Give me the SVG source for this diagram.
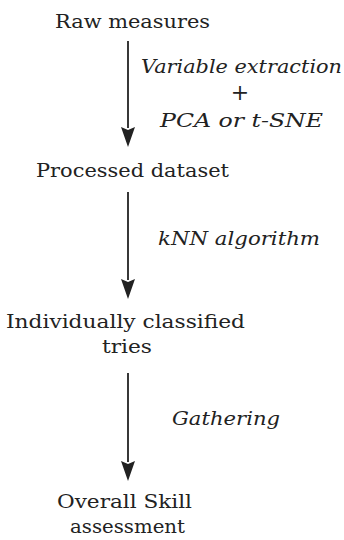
<svg xmlns="http://www.w3.org/2000/svg" width="344" height="540" viewBox="0 0 344 540">
<style>
text{fill:#222}
.lbl{font-style:italic}
.edge{stroke:#222;stroke-width:1.8;fill:none}
.head{fill:#222}
</style>
<rect width="344" height="540" fill="#fff"/>
<g font-family="DejaVu Serif" font-size="18.5">
<g id="connectors">
<line class="edge" x1="128" y1="41" x2="128" y2="128"/>
<path class="head" d="M121,127 L128,130 L135,127 L128,147 Z"/>
<line class="edge" x1="128" y1="192" x2="128" y2="280"/>
<path class="head" d="M121,279 L128,282 L135,279 L128,299 Z"/>
<line class="edge" x1="128" y1="373" x2="128" y2="462"/>
<path class="head" d="M121,461 L128,464 L135,461 L128,481 Z"/>
<g class="lbl">
<text x="141" y="73" textLength="201" lengthAdjust="spacingAndGlyphs">Variable extraction</text>
<text x="240" y="100" text-anchor="middle" font-size="22">+</text>
<text x="160" y="127" textLength="163" lengthAdjust="spacingAndGlyphs">PCA or t-SNE</text>
<text x="158" y="245" textLength="162" lengthAdjust="spacingAndGlyphs">kNN algorithm</text>
<text x="172" y="425" textLength="108" lengthAdjust="spacingAndGlyphs">Gathering</text>
</g>
</g>
<g id="raw"><text x="55" y="28" textLength="155" lengthAdjust="spacingAndGlyphs">Raw measures</text></g>
<g id="processed"><text x="36" y="177" textLength="193" lengthAdjust="spacingAndGlyphs">Processed dataset</text></g>
<g id="classified">
<text x="6" y="328" textLength="239" lengthAdjust="spacingAndGlyphs">Individually classified</text>
<text x="102" y="353" textLength="50" lengthAdjust="spacingAndGlyphs">tries</text>
</g>
<g id="overall">
<text x="57" y="508" textLength="135" lengthAdjust="spacingAndGlyphs">Overall Skill</text>
<text x="70" y="533" textLength="115" lengthAdjust="spacingAndGlyphs">assessment</text>
</g>
</g>
</svg>
